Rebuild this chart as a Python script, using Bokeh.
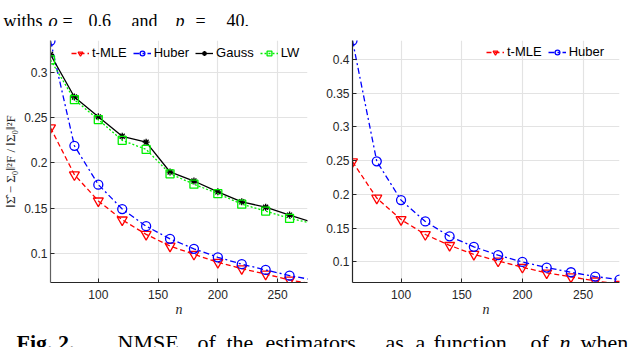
from bokeh.plotting import figure
from bokeh.layouts import column, row
from bokeh.models import FixedTicker, Range1d, ColumnDataSource
from bokeh.core.properties import value
from bokeh.embed import file_html
from bokeh.resources import INLINE

# ---------------- data ----------------
n = [60, 80, 100, 120, 140, 160, 180, 200, 220, 240, 260, 280]

left_tmle = [0.239, 0.187, 0.158, 0.137, 0.121, 0.108, 0.099, 0.090, 0.083, 0.077, 0.0705, 0.066]
left_huber = [0.3352, 0.219, 0.176, 0.149, 0.130, 0.116, 0.105, 0.0956, 0.088, 0.0816, 0.0753, 0.0705]
left_gauss = [0.320, 0.273, 0.251, 0.2295, 0.223, 0.190, 0.180, 0.168, 0.157, 0.151, 0.1423, 0.134]
left_lw = [0.314, 0.270, 0.248, 0.225, 0.215, 0.188, 0.1765, 0.166, 0.1544, 0.1467, 0.1386, 0.133]

right_tmle = [0.2485, 0.1946, 0.1628, 0.1407, 0.1246, 0.1113, 0.1015, 0.0922, 0.0838, 0.078, 0.072, 0.067]
right_huber = [0.428, 0.249, 0.1916, 0.160, 0.138, 0.1225, 0.110, 0.100, 0.0917, 0.0848, 0.0784, 0.074]

x_ticks = [100, 150, 200, 250]
left_y_ticks = [0.1, 0.15, 0.2, 0.25, 0.3]
left_y_labels = ["0.1", "0.15", "0.2", "0.25", "0.3"]
right_y_ticks = [0.1, 0.15, 0.2, 0.25, 0.3, 0.35, 0.4]
right_y_labels = ["0.1", "0.15", "0.2", "0.25", "0.3", "0.35", "0.4"]

top_words = ["withs", "ϱ", "=", "0.6", "and", "p", "=", "40."]
top_style = ["normal", "italic", "normal", "normal", "normal", "italic", "normal", "normal"]
top_x = [3, 48, 62, 88, 131, 175, 195, 226]

cap_words = ["Fig. 2.", "NMSE", "of", "the", "estimators", "as", "a", "function", "of", "n", "when"]
cap_style = ["bold", "normal", "normal", "normal", "normal", "normal", "normal", "normal", "normal", "italic", "normal"]
cap_x = [16, 117, 197, 226, 265, 385, 415, 433, 530, 559, 580]

AX = "#262626"
SANS = "Liberation Sans"
SERIF = "Liberation Serif"

TOP_H = 26
CAP_H = 26
ROW_H = 347 - TOP_H - CAP_H


def base_fig(xr, yr, yt, yl, mbl, mbr, mbt, mbb):
    p = figure(width=320, height=ROW_H, x_range=Range1d(*xr), y_range=Range1d(*yr),
               output_backend="svg", toolbar_location=None, title=None,
               min_border_left=mbl, min_border_right=mbr,
               min_border_top=mbt, min_border_bottom=mbb)
    p.outline_line_color = None
    p.xaxis.ticker = FixedTicker(ticks=x_ticks)
    p.yaxis.ticker = FixedTicker(ticks=yt)
    p.yaxis.major_label_overrides = {t: s for t, s in zip(yt, yl)}
    for ax in (p.xaxis[0], p.yaxis[0]):
        ax.axis_line_color = AX
        ax.axis_line_width = 1.2
        ax.major_tick_line_color = AX
        ax.major_tick_in = 4
        ax.major_tick_out = 0
        ax.minor_tick_line_color = None
        ax.major_label_text_font = SANS
        ax.major_label_text_font_size = "12px"
        ax.major_label_text_color = AX
    p.yaxis.major_label_standoff = 3
    p.xaxis.major_label_standoff = 7
    p.xaxis.axis_label = "n"
    p.xaxis.axis_label_text_font = SERIF
    p.xaxis.axis_label_text_font_style = "italic"
    p.xaxis.axis_label_text_font_size = "14px"
    p.xaxis.axis_label_standoff = 0
    p.xaxis.axis_label_text_color = AX
    p.grid.grid_line_color = "#e3e3e3"
    p.grid.grid_line_width = 1.2
    return p


def add_series(p, y, color, dash, marker, size, label):
    p.line(n, y, line_color=color, line_width=1.3, line_dash=dash, legend_label=label)
    p.scatter(n, y, marker=marker, size=size, line_color=color, line_width=1.3,
              fill_color=None, legend_label=label)


def style_legend(p, loc):
    lg = p.legend[0]
    lg.location = loc
    lg.orientation = "horizontal"
    lg.background_fill_alpha = 0
    lg.border_line_color = None
    lg.padding = 0
    lg.margin = 0
    lg.spacing = 6
    lg.label_standoff = 3
    lg.glyph_width = 18
    lg.glyph_height = 12
    lg.label_height = 12
    lg.label_text_font = SANS
    lg.label_text_font_size = "13px"
    lg.label_text_color = "#000000"


# ---------------- left panel (frame x 50..307, y 40..283) ----------------
p1 = base_fig((60, 275), (0.0677, 0.3355), left_y_ticks, left_y_labels,
              50, 13, 40 - TOP_H, TOP_H + ROW_H - 283)
p1.yaxis.axis_label = "‖Σ̂ − Σ₀‖²F / ‖Σ₀‖²F"
p1.yaxis.axis_label_text_font = SERIF
p1.yaxis.axis_label_text_font_style = "normal"
p1.yaxis.axis_label_text_font_size = "13px"
p1.yaxis.axis_label_standoff = 3
p1.yaxis.axis_label_text_color = AX
p1.yaxis.axis_line_color = "#606060"

add_series(p1, left_tmle, "#ff0000", "5 3", "inverted_triangle", 10, "t-MLE")
add_series(p1, left_huber, "#0000ff", "6 3 2 3", "circle", 9, "Huber")
add_series(p1, left_gauss, "#000000", "solid", "asterisk", 7, "Gauss")
add_series(p1, left_lw, "#00ee00", "2 2", "square", 8, "LW")
style_legend(p1, (21, 222))

# ---------------- right panel (frame x 352..619, y 38..282) ----------------
p2 = base_fig((60, 280), (0.0696, 0.428), right_y_ticks, right_y_labels,
              32, 21, 38 - TOP_H, TOP_H + ROW_H - 282)
add_series(p2, right_tmle, "#ff0000", "5 3", "inverted_triangle", 10, "t-MLE")
add_series(p2, right_huber, "#0000ff", "6 3 2 3", "circle", 9, "Huber")
style_legend(p2, (134, 223))


def text_fig(h):
    f = figure(width=640, height=h, x_range=Range1d(0, 640), y_range=Range1d(0, h),
               output_backend="svg", toolbar_location=None, title=None,
               x_axis_type=None, y_axis_type=None,
               min_border=0, min_border_left=0, min_border_right=0,
               min_border_top=0, min_border_bottom=0)
    f.outline_line_color = None
    f.grid.visible = False
    return f


def add_words(f, words, xs, styles, baseline_y, size):
    for st in ("normal", "italic", "bold"):
        sel = [i for i, s in enumerate(styles) if s == st]
        if not sel:
            continue
        src = ColumnDataSource(dict(x=[xs[i] for i in sel],
                                    y=[baseline_y] * len(sel),
                                    t=[words[i] for i in sel]))
        f.text("x", "y", text="t", source=src, text_font=value(SERIF),
               text_font_size=value(size), text_font_style=value(st),
               text_color="#000000", text_baseline="alphabetic", text_align="left")


# ---------------- top text ----------------
ptop = text_fig(TOP_H)
add_words(ptop, top_words, top_x, top_style, 6, "18px")

# ---------------- caption ----------------
pcap = text_fig(CAP_H)
add_words(pcap, cap_words, cap_x, cap_style, 5, "22px")

layout = column(ptop, row(p1, p2), pcap)
open("out.html", "w").write(file_html(layout, INLINE))
